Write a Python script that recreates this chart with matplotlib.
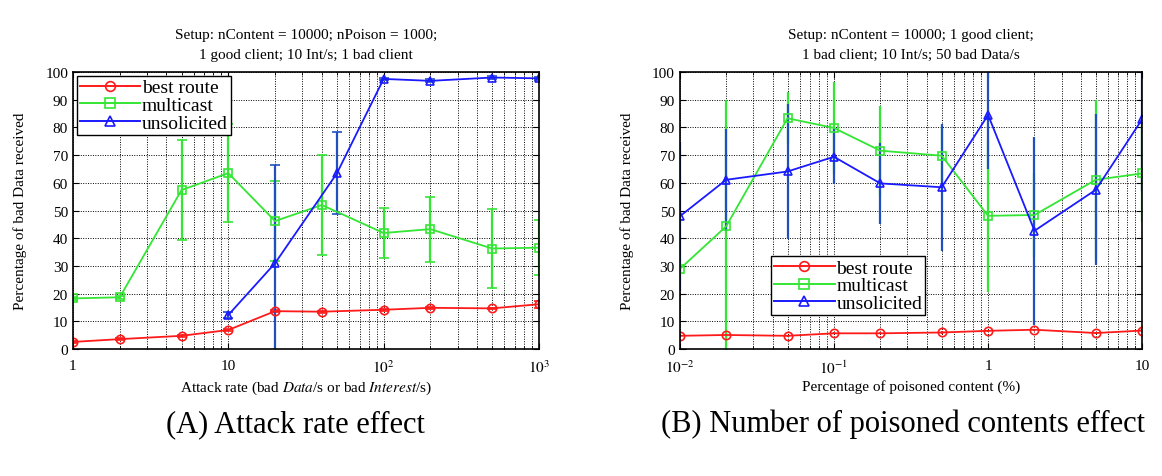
import numpy as np
import matplotlib
matplotlib.use("Agg")
import matplotlib.pyplot as plt
from matplotlib.lines import Line2D
from matplotlib.ticker import FixedLocator, FixedFormatter, LogLocator

plt.rcParams['font.family'] = ['Liberation Serif', 'DejaVu Serif']
plt.rcParams['mathtext.fontset'] = 'stix'

# (A) attack rate effect
rate_best = [1, 2, 5, 10, 20, 40, 100, 200, 500, 1000]
best_a = [2.6, 3.6, 4.8, 6.9, 13.7, 13.5, 14.2, 14.9, 14.7, 16.2]
best_a_sd = [0.3, 0.3, 0.3, 0.3, 0.3, 0.3, 0.3, 0.3, 0.3, 1.2]
rate_multi = [1, 2, 5, 10, 20, 40, 100, 200, 500, 1000]
multi_a = [18.3, 18.7, 57.4, 63.5, 46.2, 52.0, 41.9, 43.3, 36.3, 36.6]
multi_a_sd = [0.5, 0.5, 18.0, 17.7, 14.5, 18.0, 9.2, 11.7, 14.4, 10.0]
rate_uns = [10, 20, 50, 100, 200, 500, 1000]
uns_a = [12.3, 31.0, 63.4, 97.5, 96.8, 98.0, 97.7]
uns_a_sd = [1.2, 35.4, 14.8, 0.5, 0.5, 0.5, 0.5]

# (B) number of poisoned contents effect
pct = [0.01, 0.02, 0.05, 0.1, 0.2, 0.5, 1, 2, 5, 10]
best_b = [4.8, 5.1, 4.8, 5.7, 5.7, 6.0, 6.6, 7.0, 5.8, 6.7]
best_b_sd = [0.4, 0.4, 0.4, 0.4, 0.4, 0.4, 0.4, 0.4, 0.4, 0.4]
multi_b = [28.9, 44.3, 83.3, 79.8, 71.6, 69.8, 48.1, 48.4, 61.1, 63.4]
multi_b_sd = [2.0, 45.7, 9.4, 16.5, 16.2, 10.0, 27.5, 15.0, 28.9, 17.7]
uns_b = [47.9, 61.1, 64.1, 69.4, 59.8, 58.4, 84.5, 42.7, 57.5, 83.0]
uns_b_sd = [27.0, 18.3, 24.3, 10.0, 14.5, 23.0, 19.5, 34.0, 27.3, 26.0]

labels = ['best route', 'multicast', 'unsolicited']
RED, GREEN, BLUE = '#ff1a1a', '#33e633', '#1a1aff'
ERR_BLUE = '#2050c0'
MARKERS = ['o', 's', '^']

fig = plt.figure(figsize=(11.62, 4.77), dpi=100)
ax1 = fig.add_axes([0.0628, 0.266, 0.401, 0.581])
ax2 = fig.add_axes([0.585, 0.266, 0.398, 0.581])


def draw(ax, xs, ys, sds, caps):
    cols = [RED, GREEN, BLUE]
    ecols = [RED, GREEN, ERR_BLUE]
    for x, y, sd, m, c, ec in zip(xs, ys, sds, MARKERS, cols, ecols):
        ax.errorbar(x, y, yerr=sd, color=c, ecolor=ec, marker=m, markersize=6,
                    markerfacecolor='none', markeredgecolor=c, markeredgewidth=1.2,
                    lw=1.3, elinewidth=1.6, capsize=caps, capthick=1.4)
    ax.set_xscale('log')
    ax.set_ylim(0, 100)
    ax.set_yticks(np.arange(0, 101, 10))
    ax.xaxis.set_minor_locator(LogLocator(base=10, subs=np.arange(2, 10)))
    ax.grid(True, which='major', color='k', linestyle=(0, (1, 1.5)), lw=0.7)
    ax.grid(True, which='minor', axis='x', color='k', linestyle=(0, (1, 1.5)), lw=0.7)
    ax.tick_params(which='both', direction='in', top=True, right=True, labelsize=11)
    ax.tick_params(which='major', length=4)
    ax.tick_params(which='minor', length=2)
    ax.tick_params(axis='x', pad=7)
    for s in ax.spines.values():
        s.set_linewidth(1.2)
    ax.set_ylabel('Percentage of bad Data received', fontsize=11, labelpad=13)
    handles = [Line2D([], [], color=c, marker=m, markersize=7, markerfacecolor='none',
                      markeredgewidth=1.2, lw=1.4) for c, m in zip(cols, MARKERS)]
    return handles


h = draw(ax1, [rate_best, rate_multi, rate_uns], [best_a, multi_a, uns_a],
         [best_a_sd, multi_a_sd, uns_a_sd], 3.5)
ax1.set_xlim(1, 1000)
ax1.xaxis.set_major_locator(FixedLocator([1, 10, 100, 1000]))
ax1.xaxis.set_major_formatter(FixedFormatter(['1', '10', '$10^2$', '$10^3$']))
ax1.set_xlabel('Attack rate (bad $\\it{Data}$/s or bad $\\it{Interest}$/s)', fontsize=11,
               labelpad=2)
ax1.set_title('Setup: nContent = 10000; nPoison = 1000;\n1 good client; 10 Int/s; 1 bad client',
              fontsize=11, pad=10, linespacing=1.7)
leg1 = ax1.legend(h, labels, loc='upper left', fontsize=14, frameon=True, fancybox=False,
                  edgecolor='k', borderpad=0.15, labelspacing=0.0, handlelength=3.1,
                  handletextpad=0.1, borderaxespad=0.2, framealpha=1)
leg1.get_frame().set_linewidth(1.0)

h = draw(ax2, [pct, pct, pct], [best_b, multi_b, uns_b],
         [best_b_sd, multi_b_sd, uns_b_sd], 0)
ax2.set_xlim(0.01, 10)
ax2.xaxis.set_major_locator(FixedLocator([0.01, 0.1, 1, 10]))
ax2.xaxis.set_major_formatter(FixedFormatter(['$10^{-2}$', '$10^{-1}$', '1', '10']))
ax2.set_xlabel('Percentage of poisoned content (%)', fontsize=11, labelpad=2)
ax2.set_title('Setup: nContent = 10000; 1 good client;\n1 bad client; 10 Int/s; 50 bad Data/s',
              fontsize=11, pad=10, linespacing=1.7)
leg2 = ax2.legend(h, labels, loc='upper left', bbox_to_anchor=(0.177, 0.37), fontsize=14,
                  frameon=True, fancybox=False, edgecolor='k', borderpad=0.15,
                  labelspacing=0.0, handlelength=3.1, handletextpad=0.1, framealpha=1)
leg2.get_frame().set_linewidth(1.0)

fig.text(0.254, 0.11, '(A) Attack rate effect', fontsize=22, ha='center', va='center')
fig.text(0.777, 0.11, '(B) Number of poisoned contents effect', fontsize=22,
         ha='center', va='center')

fig.savefig('out.png', dpi=100)
